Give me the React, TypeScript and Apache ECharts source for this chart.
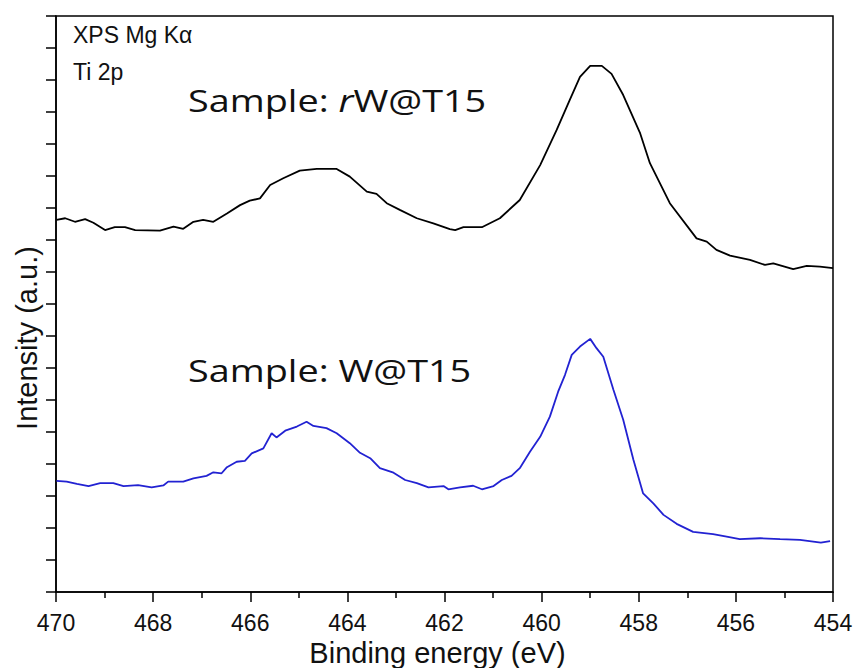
import React, { useEffect, useRef } from "react";
import * as echarts from "echarts";

// Binding energy (eV) and intensity (arbitrary units)
const energyRW = [469.99, 469.81, 469.61, 469.4, 469.23, 468.99, 468.79, 468.58, 468.37, 467.86, 467.58, 467.38, 467.17, 466.97, 466.76, 466.48, 466.21, 466.01, 465.8, 465.59, 465.32, 464.98, 464.63, 464.22, 463.95, 463.6, 463.4, 463.19, 462.92, 462.57, 462.23, 461.89, 461.78, 461.61, 461.23, 460.86, 460.45, 460.03, 459.69, 459.42, 459.21, 459.0, 458.76, 458.56, 458.32, 457.97, 457.77, 457.36, 456.81, 456.6, 456.4, 456.12, 455.71, 455.4, 455.23, 454.82, 454.54, 454.27, 454.0];
const intensityRW = [11.63, 11.68, 11.57, 11.65, 11.54, 11.31, 11.4, 11.4, 11.31, 11.29, 11.42, 11.35, 11.57, 11.63, 11.57, 11.83, 12.09, 12.23, 12.3, 12.72, 12.93, 13.17, 13.22, 13.22, 12.98, 12.51, 12.44, 12.15, 11.94, 11.68, 11.52, 11.34, 11.31, 11.4, 11.4, 11.68, 12.25, 13.34, 14.44, 15.38, 16.1, 16.44, 16.44, 16.19, 15.53, 14.33, 13.4, 12.15, 11.05, 10.95, 10.69, 10.51, 10.38, 10.22, 10.27, 10.09, 10.19, 10.17, 10.12];

const energyW = [469.99, 469.78, 469.57, 469.33, 469.09, 468.82, 468.61, 468.31, 468.03, 467.79, 467.69, 467.38, 467.17, 466.9, 466.76, 466.59, 466.48, 466.28, 466.11, 465.97, 465.73, 465.56, 465.46, 465.28, 465.04, 464.84, 464.7, 464.43, 464.22, 463.95, 463.74, 463.53, 463.33, 463.05, 462.81, 462.57, 462.33, 462.02, 461.92, 461.68, 461.41, 461.23, 460.99, 460.82, 460.62, 460.45, 460.24, 460.03, 459.83, 459.66, 459.52, 459.38, 459.21, 459.0, 458.87, 458.73, 458.52, 458.32, 458.11, 457.91, 457.7, 457.49, 457.22, 456.88, 456.47, 456.19, 455.92, 455.5, 455.09, 454.68, 454.25, 454.06];
const intensityW = [3.47, 3.45, 3.38, 3.31, 3.4, 3.4, 3.31, 3.34, 3.27, 3.33, 3.45, 3.45, 3.55, 3.63, 3.74, 3.71, 3.9, 4.07, 4.1, 4.33, 4.49, 4.96, 4.83, 5.04, 5.17, 5.32, 5.19, 5.12, 4.96, 4.65, 4.35, 4.18, 3.87, 3.73, 3.5, 3.4, 3.27, 3.31, 3.21, 3.27, 3.32, 3.21, 3.31, 3.5, 3.63, 3.87, 4.38, 4.85, 5.48, 6.26, 6.78, 7.41, 7.67, 7.91, 7.62, 7.35, 6.31, 5.38, 4.13, 3.08, 2.77, 2.41, 2.13, 1.88, 1.81, 1.73, 1.65, 1.68, 1.65, 1.63, 1.54, 1.59];

const xTicks = [470, 468, 466, 464, 462, 460, 458, 456, 454];

const zip = (xs: number[], ys: number[]) => xs.map((x, i) => [x, ys[i]]);

export default function App() {
  const ref = useRef<HTMLDivElement>(null);
  useEffect(() => {
    if (!ref.current) return;
    const chart = echarts.init(ref.current, undefined, { renderer: "svg" });
    const sans = "'Liberation Sans', Arial, sans-serif";
    const sampleFont = "'Open Sans', 'Noto Sans', sans-serif";
    chart.setOption({
      animation: false,
      backgroundColor: "#fff",
      grid: {
        left: 56, right: 24, top: 16, bottom: 76,
        show: true, borderColor: "#000", borderWidth: 1.5,
        containLabel: false, outerBoundsMode: "none",
      },
      xAxis: {
        type: "value",
        min: xTicks[xTicks.length - 1],
        max: xTicks[0],
        interval: 2,
        inverse: true,
        name: "Binding energy (eV)",
        nameLocation: "middle",
        nameGap: 36,
        nameTextStyle: { fontFamily: sans, fontSize: 29, color: "#111", padding: [0, 14, 0, 0] },
        axisLine: { show: true, onZero: false, lineStyle: { color: "#000", width: 1.5 } },
        axisTick: { show: true, inside: false, length: 10, lineStyle: { color: "#000", width: 1.5 } },
        minorTick: { show: true, splitNumber: 2, length: 6, lineStyle: { color: "#000", width: 1.5 } },
        axisLabel: { fontFamily: sans, fontSize: 23, color: "#111", margin: 19 },
        splitLine: { show: false },
      },
      yAxis: {
        type: "value",
        min: 0,
        max: 18,
        interval: 1,
        axisLine: { show: true, lineStyle: { color: "#000", width: 1.5 } },
        axisTick: { show: true, inside: false, length: 10, lineStyle: { color: "#000", width: 1.5 } },
        axisLabel: { show: false },
        splitLine: { show: false },
      },
      series: [
        {
          type: "line",
          name: "rW@T15",
          data: zip(energyRW, intensityRW),
          showSymbol: false,
          lineStyle: { color: "#000", width: 1.8 },
        },
        {
          type: "line",
          name: "W@T15",
          data: zip(energyW, intensityW),
          showSymbol: false,
          lineStyle: { color: "#2222d2", width: 1.8 },
        },
      ],
      graphic: [
        {
          type: "text",
          left: 73,
          top: 23,
          style: { text: "XPS Mg Kα", font: `23px ${sans}`, fill: "#111" },
        },
        {
          type: "text",
          left: 73,
          top: 60,
          style: { text: "Ti 2p", font: `23px ${sans}`, fill: "#111" },
        },
        {
          type: "text",
          x: 188,
          y: 100,
          scaleX: 1.22,
          style: {
            text: "Sample: {it|r}W@T15",
            font: `31px ${sampleFont}`,
            fill: "#111",
            verticalAlign: "middle",
            rich: { it: { fontStyle: "italic", fontSize: 31, fontFamily: sampleFont, fill: "#111" } },
          },
        },
        {
          type: "text",
          x: 188,
          y: 370,
          scaleX: 1.22,
          style: { text: "Sample: W@T15", font: `31px ${sampleFont}`, fill: "#111", verticalAlign: "middle" },
        },
        {
          type: "text",
          x: 27,
          y: 338,
          rotation: Math.PI / 2,
          style: { text: "Intensity (a.u.)", font: `29px ${sans}`, fill: "#111", align: "center", verticalAlign: "middle" },
        },
      ],
    });
    return () => chart.dispose();
  }, []);
  return <div ref={ref} style={{ position: "fixed", left: 0, top: 0, width: 857, height: 668 }} />;
}
